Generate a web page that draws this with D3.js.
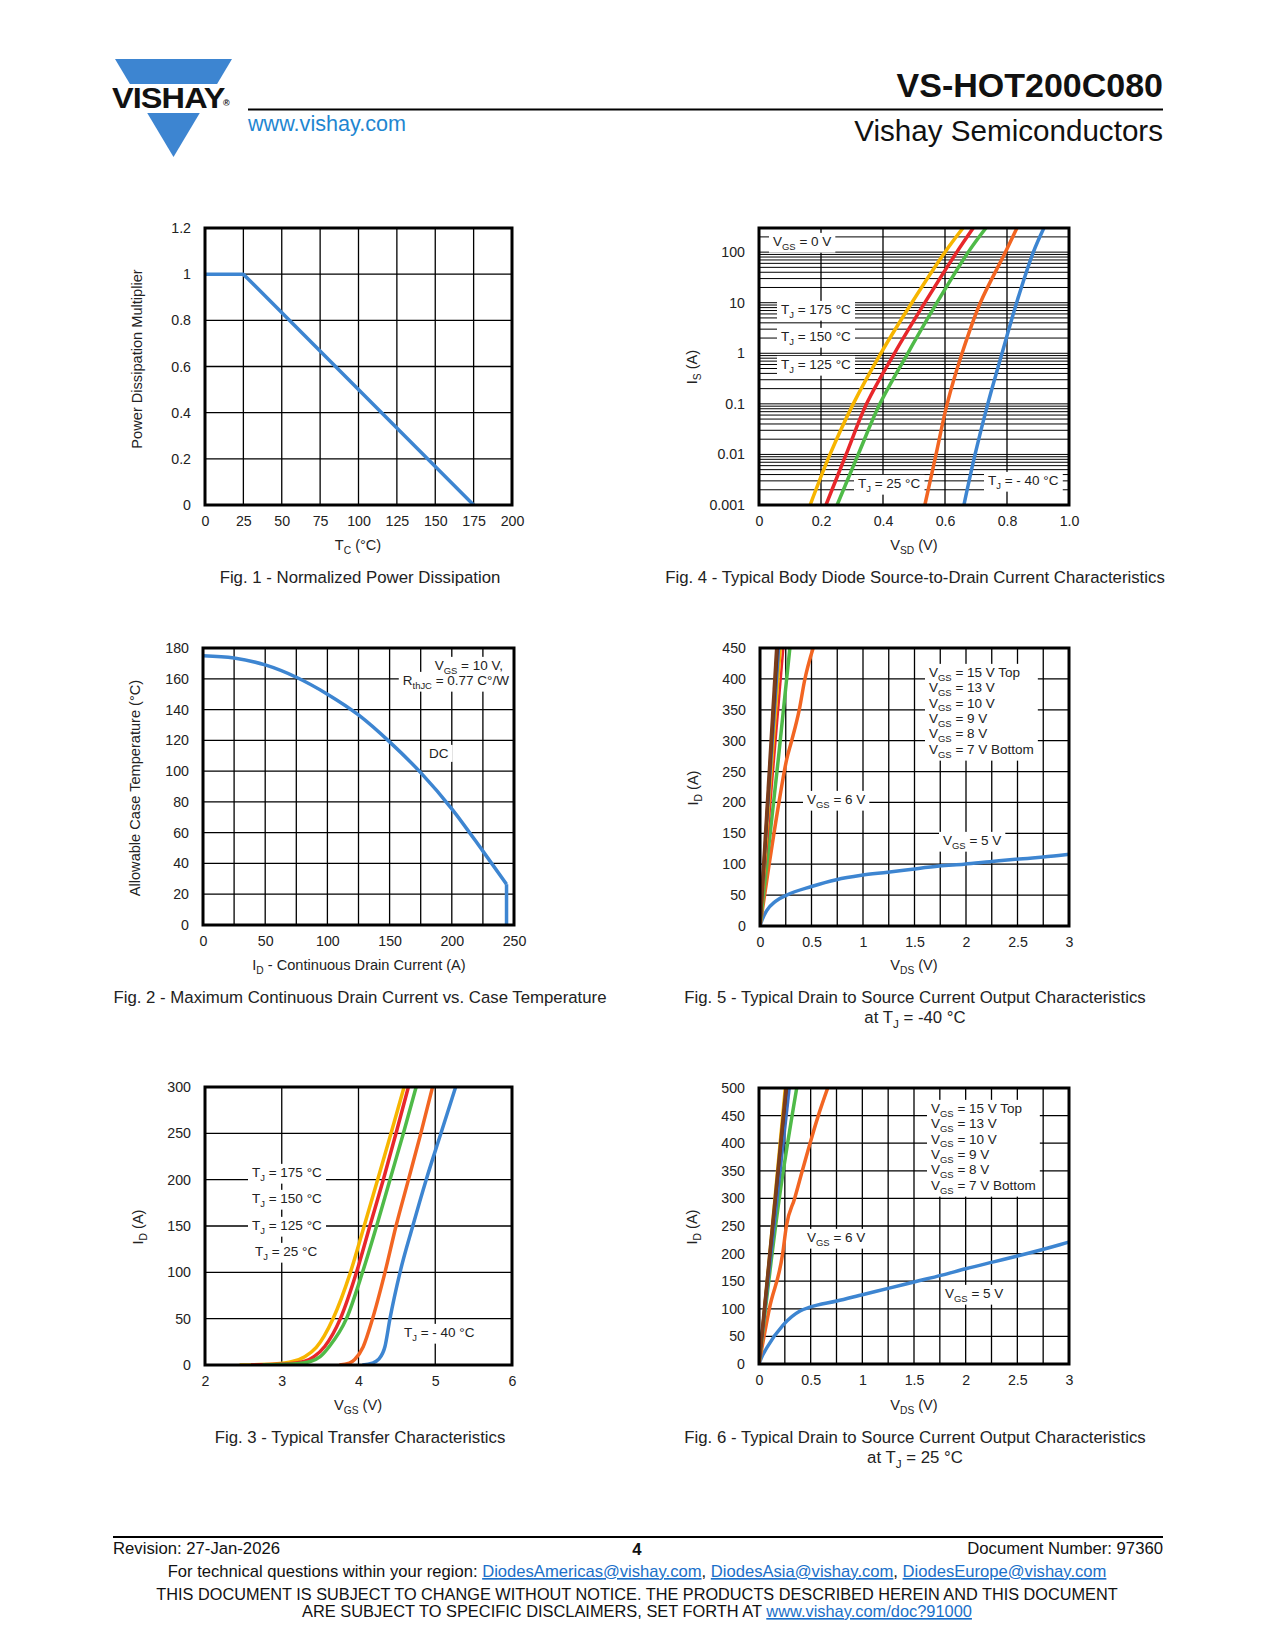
<!DOCTYPE html>
<html>
<head>
<meta charset="utf-8">
<script src="https://cdn.jsdelivr.net/npm/d3@7"></script>
<style>
  body { margin: 0; background: #fff; }
  svg { display: block; font-family: "Liberation Sans", Arial, sans-serif; }
</style>
</head>
<body>
<svg id="page" width="1275" height="1650"></svg>
<script>
// ---- Fig. 1 normalized power dissipation
const fig1Tc = [0, 25, 175];
const fig1Mult = [1, 1, 0];
const fig1XTicks = [0, 25, 50, 75, 100, 125, 150, 175, 200];
const fig1YTicks = [0, 0.2, 0.4, 0.6, 0.8, 1, 1.2];
const fig1YLabels = ["0", "0.2", "0.4", "0.6", "0.8", "1", "1.2"];

// ---- Fig. 2 max continuous drain current vs case temperature
const fig2Id = [0, 25, 50, 75, 100, 125, 150, 175, 200, 225, 244, 244];
const fig2Tc = [175, 173.5, 169, 161, 150, 136.5, 119, 99, 75.5, 48, 26.5, 0];
const fig2XTicks = [0, 50, 100, 150, 200, 250];
const fig2XGrid = [25, 50, 75, 100, 125, 150, 175, 200, 225];
const fig2YTicks = [0, 20, 40, 60, 80, 100, 120, 140, 160, 180];

// ---- Fig. 3 transfer characteristics (VGS, ID)
const fig3Series = [
  { name: "175", color: "#f7b500", vgs: [2.45, 2.9, 3.15, 3.3, 3.45, 3.668, 3.895, 4.074, 4.249, 4.424, 4.594], id: [0, 1, 4, 9, 19, 50, 100, 150, 200, 250, 300] },
  { name: "150", color: "#e8272b", vgs: [2.6, 3.05, 3.3, 3.42, 3.56, 3.764, 3.974, 4.148, 4.323, 4.489, 4.65], id: [0, 1, 4, 9, 20, 50, 100, 150, 200, 250, 300] },
  { name: "125", color: "#4fba48", vgs: [2.75, 3.15, 3.38, 3.5, 3.62, 3.843, 4.052, 4.236, 4.41, 4.585, 4.751], id: [0, 1, 4, 9, 20, 50, 100, 150, 200, 250, 300] },
  { name: "25", color: "#f26522", vgs: [3.75, 3.88, 3.95, 4.06, 4.183, 4.345, 4.489, 4.651, 4.812, 4.965], id: [0, 2, 6, 19.5, 50, 100, 150, 200, 250, 300] },
  { name: "-40", color: "#3d85d1", vgs: [4.05, 4.18, 4.26, 4.345, 4.41, 4.541, 4.707, 4.882, 5.074, 5.266], id: [0, 2, 6, 20, 50, 100, 150, 200, 250, 300] }
];
const fig3XTicks = [2, 3, 4, 5, 6];
const fig3YTicks = [0, 50, 100, 150, 200, 250, 300];

// ---- Fig. 4 body diode (VSD, IS log)
const fig4Is = [0.001, 0.01, 0.1, 1, 10, 100, 300];
const fig4Series = [
  { name: "175", color: "#f7b500", vsd: [0.165, 0.229, 0.304, 0.393, 0.493, 0.600, 0.658] },
  { name: "150", color: "#e8272b", vsd: [0.216, 0.281, 0.347, 0.437, 0.535, 0.638, 0.691] },
  { name: "125", color: "#4fba48", vsd: [0.252, 0.320, 0.390, 0.480, 0.574, 0.675, 0.732] },
  { name: "25", color: "#f26522", vsd: [0.535, 0.571, 0.607, 0.655, 0.714, 0.795, 0.832] },
  { name: "-40", color: "#3d85d1", vsd: [0.661, 0.697, 0.738, 0.784, 0.831, 0.885, 0.919] }
];
const fig4XTicks = [0, 0.2, 0.4, 0.6, 0.8, 1.0];
const fig4XLabels = ["0", "0.2", "0.4", "0.6", "0.8", "1.0"];
const fig4YTicks = [0.001, 0.01, 0.1, 1, 10, 100];
const fig4YLabels = ["0.001", "0.01", "0.1", "1", "10", "100"];

// ---- Fig. 5 output characteristics at TJ = -40 °C (VDS, ID)
const fig5Series = [
  { name: "5", color: "#3d85d1", w: 3.5, vds: [0, 0.02, 0.065, 0.15, 0.258, 0.5, 0.742, 0.984, 1.24, 1.48, 1.74, 1.98, 2.23, 2.48, 2.9, 3.0], id: [0, 10, 25, 40, 50, 64, 75, 82, 87, 92, 97, 100, 104, 108, 114, 116] },
  { name: "6", color: "#f26522", w: 3.5, vds: [0, 0.09, 0.187, 0.258, 0.306, 0.38, 0.435, 0.516], id: [0, 101, 203, 269, 299, 349, 399, 450] },
  { name: "7", color: "#4fba48", w: 3.5, vds: [0, 0.177, 0.29], id: [0, 269, 450] },
  { name: "8", color: "#e8272b", w: 2.5, vds: [0, 0.226], id: [0, 450] },
  { name: "9", color: "#f7b500", w: 2.5, vds: [0, 0.201], id: [0, 450] },
  { name: "10", color: "#3d6fc0", w: 2.5, vds: [0, 0.185], id: [0, 450] },
  { name: "13", color: "#5b2a12", w: 3, vds: [0, 0.17], id: [0, 450] },
  { name: "15", color: "#7b3d1c", w: 3.5, vds: [0, 0.162], id: [0, 450] }
];
const fig5YTicks = [0, 50, 100, 150, 200, 250, 300, 350, 400, 450];

// ---- Fig. 6 output characteristics at TJ = 25 °C (VDS, ID)
const fig6Series = [
  { name: "5", color: "#3d85d1", w: 3.5, vds: [0, 0.02, 0.074, 0.235, 0.397, 0.494, 0.752, 1.01, 1.25, 1.51, 1.77, 2.01, 2.27, 2.51, 2.91, 3.0], id: [0, 10, 29, 71, 96, 103, 114, 126, 137, 149, 161, 173, 185, 196, 216, 221] },
  { name: "6", color: "#f26522", w: 3.5, vds: [0, 0.1, 0.229, 0.265, 0.345, 0.419, 0.494, 0.574, 0.665], id: [0, 100, 200, 250, 300, 350, 400, 450, 500] },
  { name: "7", color: "#4fba48", w: 3.5, vds: [0, 0.194, 0.365], id: [0, 297, 500] },
  { name: "8", color: "#e8272b", w: 2.5, vds: [0, 0.28], id: [0, 500] },
  { name: "9", color: "#f7b500", w: 2.5, vds: [0, 0.25], id: [0, 500] },
  { name: "10", color: "#3d6fc0", w: 3, vds: [0, 0.294], id: [0, 500] },
  { name: "13", color: "#5b2a12", w: 3, vds: [0, 0.266], id: [0, 500] },
  { name: "15", color: "#7b3d1c", w: 3.5, vds: [0, 0.262], id: [0, 500] }
];
const fig6YTicks = [0, 50, 100, 150, 200, 250, 300, 350, 400, 450, 500];

const vdsTicks = [0, 0.5, 1, 1.5, 2, 2.5, 3];
const vdsGrid = [0.25, 0.5, 0.75, 1, 1.25, 1.5, 1.75, 2, 2.25, 2.5, 2.75];
const vgsLegend = ["V_{GS} = 15 V Top", "V_{GS} = 13 V", "V_{GS} = 10 V", "V_{GS} = 9 V", "V_{GS} = 8 V", "V_{GS} = 7 V Bottom"];

const svg = d3.select("#page");
let clipCount = 0;

// text with _{sub} parts as tspans
function rich(t, str, fs) {
  const parts = str.split(/_\{([^}]*)\}/);
  let shifted = false;
  parts.forEach((p, i) => {
    if (i % 2) {
      t.append("tspan").attr("font-size", fs * 0.7).attr("dy", fs * 0.28).text(p);
      shifted = true;
    } else if (p) {
      t.append("tspan").attr("dy", shifted ? -fs * 0.28 : null).text(p);
      shifted = false;
    }
  });
  return t;
}

// annotation text; returns its box so a white background can go underneath
function label(g, x, cy, str, opt = {}) {
  const fs = opt.fs || 13.5;
  const t = g.append("text")
    .attr("x", x).attr("y", cy + fs * 0.36)
    .attr("font-size", fs)
    .attr("text-anchor", opt.anchor || "start")
    .attr("fill", "#222");
  rich(t, str, fs);
  return t.node().getBBox();
}

function plot(o) {
  const g = svg.append("g");
  const x = o.x, y = o.y;
  const [x0, x1] = x.range();
  const [yb, yt] = y.range();
  const clipId = "clip" + (clipCount++);
  svg.append("clipPath").attr("id", clipId)
    .append("rect").attr("x", x0).attr("y", yt).attr("width", x1 - x0).attr("height", yb - yt);

  g.append("g").selectAll("line").data(o.gridX).join("line")
    .attr("x1", d => x(d)).attr("x2", d => x(d)).attr("y1", yt).attr("y2", yb)
    .attr("stroke", "#000").attr("stroke-width", 1.3);
  g.append("g").selectAll("line").data(o.gridY).join("line")
    .attr("y1", d => y(d)).attr("y2", d => y(d)).attr("x1", x0).attr("x2", x1)
    .attr("stroke", "#000").attr("stroke-width", o.gridYWidth || 1.3);

  const ax = g.append("g").attr("transform", `translate(0,${yb})`)
    .call(d3.axisBottom(x).tickValues(o.xTicks)
      .tickFormat((d, i) => o.xLabels ? o.xLabels[i] : String(d))
      .tickSize(0).tickPadding(11));
  const ay = g.append("g").attr("transform", `translate(${x0},0)`)
    .call(d3.axisLeft(y).tickValues(o.yTicks)
      .tickFormat((d, i) => o.yLabels ? o.yLabels[i] : String(d))
      .tickSize(0).tickPadding(14));
  [ax, ay].forEach(a => {
    a.select(".domain").remove();
    a.attr("font-size", 14.2).attr("font-family", null);
    a.selectAll("text").attr("fill", "#222");
  });

  // notes: labels sharing a "block" key get one white box together
  const notesBg = g.append("g");
  const notes = g.append("g");
  const boxes = new Map();
  (o.notes || []).forEach((n, i) => {
    const b = label(notes, n[0], n[1], n[2], n[3] || {});
    const key = (n[3] && n[3].block) || "n" + i;
    const prev = boxes.get(key);
    if (!prev) boxes.set(key, { x0: b.x, y0: b.y, x1: b.x + b.width, y1: b.y + b.height });
    else {
      prev.x0 = Math.min(prev.x0, b.x); prev.y0 = Math.min(prev.y0, b.y);
      prev.x1 = Math.max(prev.x1, b.x + b.width); prev.y1 = Math.max(prev.y1, b.y + b.height);
    }
  });
  notesBg.selectAll("rect").data([...boxes.values()]).join("rect")
    .attr("x", d => d.x0 - 4).attr("y", d => d.y0 - 1)
    .attr("width", d => d.x1 - d.x0 + 8).attr("height", d => d.y1 - d.y0 + 2)
    .attr("fill", "#fff");

  const curves = g.append("g").attr("clip-path", `url(#${clipId})`);
  o.series.forEach(s => {
    const line = d3.line().x(d => x(d[0])).y(d => y(d[1])).curve(s.curve || o.curve || d3.curveMonotoneX);
    curves.append("path").datum(d3.zip(s.xs, s.ys))
      .attr("d", line).attr("fill", "none")
      .attr("stroke", s.color).attr("stroke-width", s.w || 3.5)
      .attr("stroke-linejoin", "round");
  });

  g.append("rect").attr("x", x0).attr("y", yt).attr("width", x1 - x0).attr("height", yb - yt)
    .attr("fill", "none").attr("stroke", "#000").attr("stroke-width", 3);

  rich(g.append("text").attr("x", o.xTitle[0]).attr("y", o.xTitle[1] + 5)
    .attr("text-anchor", "middle").attr("font-size", 14.6).attr("fill", "#222"), o.xTitle[2], 14.6);
  rich(g.append("text").attr("transform", `translate(${o.yTitle[0] + 5},${o.yTitle[1]}) rotate(-90)`)
    .attr("text-anchor", "middle").attr("font-size", 14.6).attr("fill", "#222"), o.yTitle[2], 14.6);

  o.caption.forEach(c => {
    rich(g.append("text").attr("x", c[0]).attr("y", c[1] + 6)
      .attr("text-anchor", "middle").attr("font-size", 16.8).attr("fill", "#222"), c[2], 16.8);
  });
}

// ---------- header
const logoBlue = "#3d85d1";
const hdr = svg.append("g");
hdr.append("polygon").attr("points", "115,59 232,59 173.5,157").attr("fill", logoBlue);
hdr.append("rect").attr("x", 105).attr("y", 84).attr("width", 135).attr("height", 29).attr("fill", "#fff");
hdr.append("text").attr("transform", "translate(112,108) scale(1.12,1)")
  .attr("font-size", 29).attr("font-weight", 700)
  .attr("letter-spacing", -0.8).attr("fill", "#111").text("VISHAY");
hdr.append("text").attr("x", 223).attr("y", 106).attr("font-size", 9).attr("font-weight", 700)
  .attr("fill", "#111").text("®");
hdr.append("line").attr("x1", 248).attr("x2", 1163).attr("y1", 109.5).attr("y2", 109.5)
  .attr("stroke", "#000").attr("stroke-width", 2);
hdr.append("text").attr("x", 248).attr("y", 130.5).attr("font-size", 21.6).attr("fill", "#1f86d1").text("www.vishay.com");
hdr.append("text").attr("x", 1163).attr("y", 97).attr("text-anchor", "end").attr("font-size", 34)
  .attr("font-weight", 700).attr("fill", "#111").text("VS-HOT200C080");
hdr.append("text").attr("x", 1163).attr("y", 141).attr("text-anchor", "end").attr("font-size", 29.6)
  .attr("fill", "#111").text("Vishay Semiconductors");

// ---------- Fig. 1
plot({
  x: d3.scaleLinear().domain([0, 200]).range([205, 512]),
  y: d3.scaleLinear().domain([0, 1.2]).range([505, 228]),
  gridX: fig1XTicks, gridY: fig1YTicks,
  xTicks: fig1XTicks, yTicks: fig1YTicks, yLabels: fig1YLabels,
  series: [{ color: "#3d85d1", xs: fig1Tc, ys: fig1Mult, curve: d3.curveLinear }],
  xTitle: [358, 545, "T_{C} (°C)"],
  yTitle: [137, 359, "Power Dissipation Multiplier"],
  caption: [[360, 577, "Fig. 1 - Normalized Power Dissipation"]]
});

// ---------- Fig. 4
const f4y = d3.scaleLog().domain([0.001, 300]).range([505, 228]);
plot({
  x: d3.scaleLinear().domain([0, 1]).range([759, 1069]),
  y: f4y,
  gridX: fig4XTicks, gridY: f4y.ticks().filter(d => d <= 300), gridYWidth: 1,
  xTicks: fig4XTicks, xLabels: fig4XLabels, yTicks: fig4YTicks, yLabels: fig4YLabels,
  curve: d3.curveCatmullRom.alpha(0.5),
  series: fig4Series.map(s => ({ color: s.color, xs: s.vsd, ys: fig4Is })),
  notes: [
    [773, 241, "V_{GS} = 0 V"],
    [781, 309, "T_{J} = 175 °C"],
    [781, 336, "T_{J} = 150 °C"],
    [781, 364, "T_{J} = 125 °C"],
    [858, 483, "T_{J} = 25 °C"],
    [988, 480, "T_{J} = - 40 °C"]
  ],
  xTitle: [914, 545, "V_{SD} (V)"],
  yTitle: [692, 367, "I_{S} (A)"],
  caption: [[915, 577, "Fig. 4 - Typical Body Diode Source-to-Drain Current Characteristics"]]
});

// ---------- Fig. 2
plot({
  x: d3.scaleLinear().domain([0, 250]).range([203, 514]),
  y: d3.scaleLinear().domain([0, 180]).range([925, 648]),
  gridX: fig2XGrid, gridY: fig2YTicks,
  xTicks: fig2XTicks, yTicks: fig2YTicks,
  series: [
    { color: "#3d85d1", xs: fig2Id.slice(0, -1), ys: fig2Tc.slice(0, -1) },
    { color: "#3d85d1", xs: fig2Id.slice(-2), ys: fig2Tc.slice(-2), curve: d3.curveLinear }
  ],
  notes: [
    [503, 665, "V_{GS} = 10 V,", { anchor: "end" }],
    [509, 680, "R_{thJC} = 0.77 C°/W", { anchor: "end" }],
    [429, 753, "DC"]
  ],
  xTitle: [359, 965, "I_{D} - Continuous Drain Current (A)"],
  yTitle: [135, 788, "Allowable Case Temperature (°C)"],
  caption: [[360, 997, "Fig. 2 - Maximum Continuous Drain Current vs. Case Temperature"]]
});

// ---------- Fig. 5
plot({
  x: d3.scaleLinear().domain([0, 3]).range([760, 1069]),
  y: d3.scaleLinear().domain([0, 450]).range([926, 648]),
  gridX: vdsGrid, gridY: fig5YTicks,
  xTicks: vdsTicks, yTicks: fig5YTicks,
  series: fig5Series.map(s => ({ color: s.color, w: s.w, xs: s.vds, ys: s.id })),
  notes: vgsLegend.map((t, i) => [929, 672 + i * 15.4, t, { block: "legend" }]).concat([
    [807, 799, "V_{GS} = 6 V"],
    [943, 840, "V_{GS} = 5 V"]
  ]),
  xTitle: [914, 965, "V_{DS} (V)"],
  yTitle: [693, 788, "I_{D} (A)"],
  caption: [[915, 997, "Fig. 5 - Typical Drain to Source Current Output Characteristics"],
            [915, 1017, "at T_{J} = -40 °C"]]
});

// ---------- Fig. 3
plot({
  x: d3.scaleLinear().domain([2, 6]).range([205, 512]),
  y: d3.scaleLinear().domain([0, 300]).range([1365, 1087]),
  gridX: fig3XTicks, gridY: fig3YTicks,
  xTicks: fig3XTicks, yTicks: fig3YTicks,
  series: fig3Series.map(s => ({ color: s.color, xs: s.vgs, ys: s.id })),
  notes: [
    [252, 1172, "T_{J} = 175 °C"],
    [252, 1198, "T_{J} = 150 °C"],
    [252, 1225, "T_{J} = 125 °C"],
    [255, 1251, "T_{J} = 25 °C"],
    [404, 1332, "T_{J} = - 40 °C"]
  ],
  xTitle: [358, 1405, "V_{GS} (V)"],
  yTitle: [138, 1227, "I_{D} (A)"],
  caption: [[360, 1437, "Fig. 3 - Typical Transfer Characteristics"]]
});

// ---------- Fig. 6
plot({
  x: d3.scaleLinear().domain([0, 3]).range([759, 1069]),
  y: d3.scaleLinear().domain([0, 500]).range([1364, 1088]),
  gridX: vdsGrid, gridY: fig6YTicks,
  xTicks: vdsTicks, yTicks: fig6YTicks,
  series: fig6Series.map(s => ({ color: s.color, w: s.w, xs: s.vds, ys: s.id })),
  notes: vgsLegend.map((t, i) => [931, 1108 + i * 15.4, t, { block: "legend" }]).concat([
    [807, 1237, "V_{GS} = 6 V"],
    [945, 1293, "V_{GS} = 5 V"]
  ]),
  xTitle: [914, 1405, "V_{DS} (V)"],
  yTitle: [692, 1227, "I_{D} (A)"],
  caption: [[915, 1437, "Fig. 6 - Typical Drain to Source Current Output Characteristics"],
            [915, 1457, "at T_{J} = 25 °C"]]
});

// ---------- footer
const linkBlue = "#1a6fc9";
const ft = svg.append("g").attr("fill", "#111").attr("font-size", 16.7);
ft.append("line").attr("x1", 113).attr("x2", 1163).attr("y1", 1537).attr("y2", 1537)
  .attr("stroke", "#000").attr("stroke-width", 2);
ft.append("text").attr("x", 113).attr("y", 1554).text("Revision: 27-Jan-2026");
ft.append("text").attr("x", 637).attr("y", 1555).attr("text-anchor", "middle").attr("font-weight", 700).text("4");
ft.append("text").attr("x", 1163).attr("y", 1554).attr("text-anchor", "end").text("Document Number: 97360");

const l2 = ft.append("text").attr("x", 637).attr("y", 1577).attr("text-anchor", "middle").attr("font-size", 16.6);
[["For technical questions within your region: "], ["DiodesAmericas@vishay.com", 1], [", "],
 ["DiodesAsia@vishay.com", 1], [", "], ["DiodesEurope@vishay.com", 1]].forEach(p => {
  const t = l2.append("tspan").text(p[0]);
  if (p[1]) t.attr("fill", linkBlue).attr("text-decoration", "underline");
});
ft.append("text").attr("x", 637).attr("y", 1600).attr("text-anchor", "middle").attr("font-size", 16.3)
  .text("THIS DOCUMENT IS SUBJECT TO CHANGE WITHOUT NOTICE. THE PRODUCTS DESCRIBED HEREIN AND THIS DOCUMENT");
const l4 = ft.append("text").attr("x", 637).attr("y", 1617).attr("text-anchor", "middle").attr("font-size", 16.4);
l4.append("tspan").text("ARE SUBJECT TO SPECIFIC DISCLAIMERS, SET FORTH AT ");
l4.append("tspan").attr("fill", linkBlue).attr("text-decoration", "underline").text("www.vishay.com/doc?91000");
</script>
</body>
</html>
